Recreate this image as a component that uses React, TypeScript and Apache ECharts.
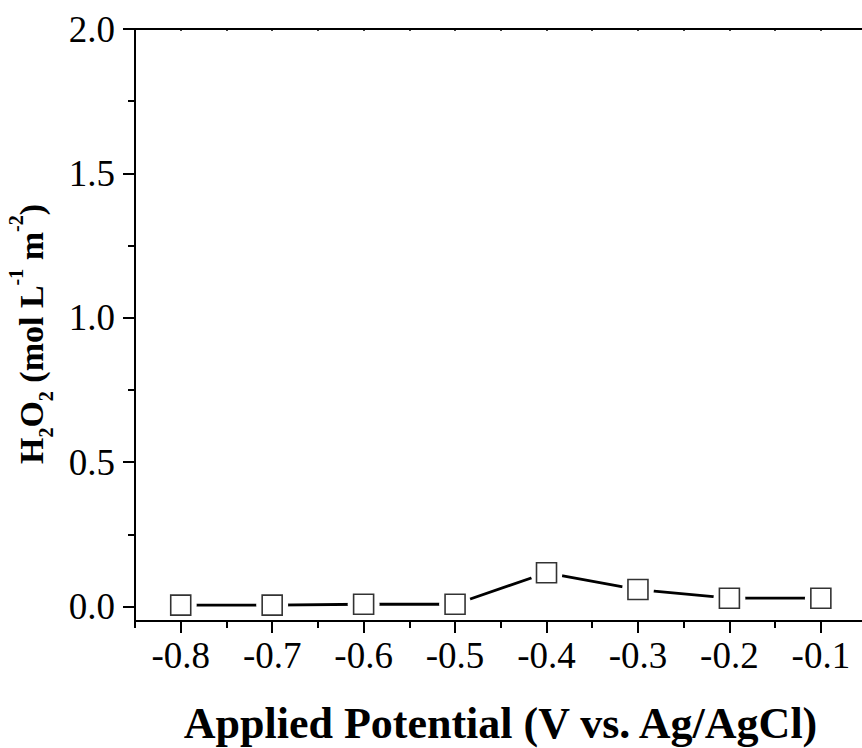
import React, { useEffect, useRef } from "react";
import * as echarts from "echarts";

const potentials = [-0.8, -0.7, -0.6, -0.5, -0.4, -0.3, -0.2, -0.1];
const h2o2 = [0.005, 0.005, 0.008, 0.008, 0.117, 0.059, 0.029, 0.029];
const xTickLabels = [-0.8, -0.7, -0.6, -0.5, -0.4, -0.3, -0.2, -0.1];
const xMinorTicks = [-0.85, -0.75, -0.65, -0.55, -0.45, -0.35, -0.25, -0.15];
const yTickLabels = [0.0, 0.5, 1.0, 1.5, 2.0];
const yMinorTicks = [0.25, 0.75, 1.25, 1.75];
const xTopTicks = [-0.85, -0.8, -0.75, -0.7, -0.65, -0.6, -0.55, -0.5, -0.45, -0.4, -0.35, -0.3, -0.25, -0.2, -0.15, -0.1];

const X_MIN = -0.85;
const X_MAX = -0.055;
const Y_MIN = -0.05;
const Y_MAX = 2.0;

const FONT = "'Liberation Serif', 'Times New Roman', serif";

export default function App() {
  const ref = useRef<HTMLDivElement>(null);
  useEffect(() => {
    if (!ref.current) return;
    const chart = echarts.init(ref.current, null, { renderer: "svg" });
    const pts = potentials.map((p, i) => [p, h2o2[i]]);
    const mkLine = () => ({ show: true, onZero: false, lineStyle: { color: "#000", width: 2 } });
    const noLine = () => ({ show: false, onZero: false });
    chart.setOption({
      animation: false,
      backgroundColor: "#fff",
      textStyle: { fontFamily: FONT },
      grid: { left: 135, top: 29, bottom: 127, right: 0, containLabel: false, outerBoundsMode: "none" },
      xAxis: [
        {
          type: "value",
          position: "bottom",
          min: X_MIN,
          max: X_MAX,
          z: 10,
          axisLine: mkLine(),
          splitLine: { show: false },
          axisTick: {
            show: true,
            inside: false,
            length: 12,
            lineStyle: { color: "#000", width: 2 },
            customValues: xTickLabels,
          },
          axisLabel: {
            show: true,
            margin: 16,
            fontSize: 37,
            color: "#000",
            fontFamily: FONT,
            customValues: xTickLabels,
            formatter: (v: number) => v.toFixed(1),
          },
          name: "Applied Potential (V vs. Ag/AgCl)",
          nameLocation: "middle",
          nameGap: 80,
          nameTextStyle: { fontSize: 44, fontWeight: "bold", color: "#000", fontFamily: FONT, padding: [0, 0, 0, 4] },
        },
        {
          type: "value",
          position: "bottom",
          min: X_MIN,
          max: X_MAX,
          z: 10,
          axisLine: noLine(),
          splitLine: { show: false },
          axisTick: {
            show: true,
            inside: false,
            length: 7,
            lineStyle: { color: "#000", width: 2 },
            customValues: xMinorTicks,
          },
          axisLabel: { show: false },
        },
        {
          type: "value",
          position: "top",
          min: X_MIN,
          max: X_MAX,
          z: 10,
          axisLine: mkLine(),
          splitLine: { show: false },
          axisTick: {
            show: true,
            inside: true,
            length: 2,
            lineStyle: { color: "#000", width: 1.5 },
            customValues: xTopTicks,
          },
          axisLabel: { show: false },
        },
      ],
      yAxis: [
        {
          type: "value",
          position: "left",
          min: Y_MIN,
          max: Y_MAX,
          z: 10,
          axisLine: mkLine(),
          splitLine: { show: false },
          axisTick: {
            show: true,
            inside: false,
            length: 12,
            lineStyle: { color: "#000", width: 2 },
            customValues: yTickLabels,
          },
          axisLabel: {
            show: true,
            margin: 20,
            fontSize: 37,
            color: "#000",
            fontFamily: FONT,
            customValues: yTickLabels,
            formatter: (v: number) => v.toFixed(1),
          },
        },
        {
          type: "value",
          position: "left",
          min: Y_MIN,
          max: Y_MAX,
          z: 10,
          axisLine: noLine(),
          splitLine: { show: false },
          axisTick: {
            show: true,
            inside: false,
            length: 7,
            lineStyle: { color: "#000", width: 2 },
            customValues: yMinorTicks,
          },
          axisLabel: { show: false },
        },
      ],
      graphic: [
        {
          type: "text",
          x: 31,
          y: 334,
          rotation: Math.PI / 2,
          style: {
            text: "{b|H}{sub|2}{b|O}{sub|2}{b| (mol L}{sup|-1}{b| m}{sup|-2}{b|)}",
            align: "center",
            verticalAlign: "middle",
            fill: "#000",
            rich: {
              b: { fontSize: 34, fontWeight: "bold", fontFamily: FONT, lineHeight: 50, fill: "#000" },
              sub: { fontSize: 20, fontWeight: "bold", fontFamily: FONT, lineHeight: 20, verticalAlign: "bottom", fill: "#000" },
              sup: { fontSize: 20, fontWeight: "bold", fontFamily: FONT, lineHeight: 24, verticalAlign: "top", fill: "#000" },
            },
          },
        },
        {
          type: "rect",
          z: 100,
          shape: { x: 856, y: 31, width: 8, height: 588 },
          style: { fill: "#fff" },
        },
      ],
      series: [
        {
          type: "line",
          data: pts,
          xAxisIndex: 0,
          yAxisIndex: 0,
          z: 2,
          lineStyle: { color: "#000", width: 2.8 },
          symbol: "circle",
          symbolSize: 32,
          showAllSymbol: true,
          itemStyle: { color: "#fff", borderWidth: 0 },
          emphasis: { disabled: true },
          clip: false,
        },
        {
          type: "scatter",
          data: pts,
          xAxisIndex: 0,
          yAxisIndex: 0,
          z: 3,
          symbol: "rect",
          symbolSize: 20,
          itemStyle: { color: "#fff", borderColor: "#000", borderWidth: 1.6 },
          emphasis: { disabled: true },
          clip: false,
        },
      ],
    });
    return () => chart.dispose();
  }, []);
  return (
    <div style={{ position: "fixed", left: 0, top: 0, width: 862, height: 748, overflow: "hidden", background: "#fff" }}>
      <div ref={ref} style={{ width: 862, height: 748 }} />
    </div>
  );
}
